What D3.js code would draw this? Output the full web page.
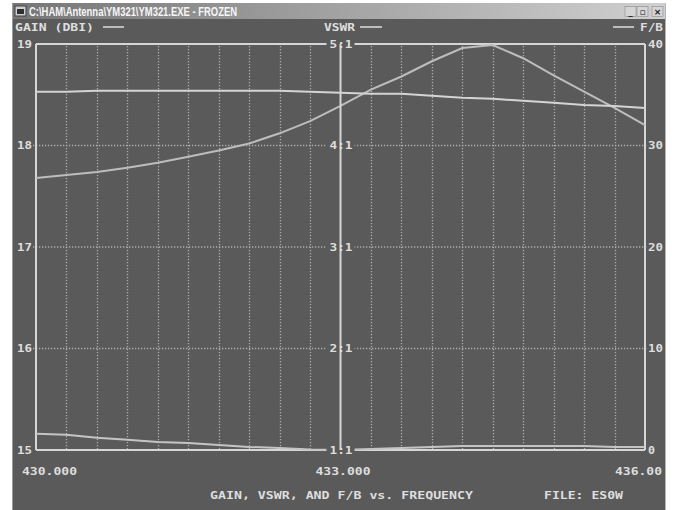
<!DOCTYPE html>
<html><head><meta charset="utf-8">
<script src="https://cdn.jsdelivr.net/npm/d3@7"></script>
<style>body{margin:0;background:#fff;overflow:hidden}</style>
</head><body>
<svg id="c" width="674" height="510"></svg>
<script>
// ---- data ----
const freqs = [430.0,430.3,430.6,430.9,431.2,431.5,431.8,432.1,432.4,432.7,433.0,433.3,433.6,433.9,434.2,434.5,434.8,435.1,435.4,435.7,436.0];
const gainDbi = [18.53,18.53,18.54,18.54,18.54,18.54,18.54,18.54,18.54,18.53,18.52,18.51,18.51,18.49,18.47,18.46,18.44,18.42,18.40,18.39,18.37];
const vswrVals = [1.16,1.15,1.12,1.10,1.08,1.07,1.05,1.03,1.02,1.005,1.00,1.01,1.02,1.03,1.04,1.04,1.04,1.04,1.04,1.03,1.03];
const fbVals = [26.8,27.1,27.4,27.8,28.3,28.9,29.5,30.2,31.2,32.4,33.9,35.5,36.8,38.3,39.6,39.9,38.6,36.9,35.3,33.7,32.0];
const gainTicks = [15,16,17,18,19];
const vswrTicks = [1,2,3,4,5];
const vswrTickLabels = ["1:1","2:1","3:1","4:1","5:1"];
const fbTicks = [0,10,20,30,40];
const freqTicks = [430,433,436];
const freqTickLabels = ["430.000","433.000","436.00"];
const windowTitle = "C:\\HAM\\Antenna\\YM321\\YM321.EXE - FROZEN";
const legendLeft = "GAIN (DBI)", legendMid = "VSWR", legendRight = "F/B";
const chartTitle = "GAIN, VSWR, AND F/B vs. FREQUENCY";
const fileLabel = "FILE: ES0W";

// ---- layout ----
const L = 36, R = 645, T = 44, B = 450;
const BG = "#5a5a5a", FRAME = "#d6d6d6", TXT = "#dedede", GRID = "#adadad";
const svg = d3.select("#c");

const x = d3.scaleLinear().domain([430,436]).range([L,R]);
const yGain = d3.scaleLinear().domain([15,19]).range([B,T]);
const yVswr = d3.scaleLinear().domain([1,5]).range([B,T]);
const yFb = d3.scaleLinear().domain([0,40]).range([B,T]);
const xMid = x(433);

// window
svg.append("rect").attr("x",12).attr("y",3).attr("width",654).attr("height",510).attr("fill",BG);
svg.append("line").attr("x1",12.5).attr("x2",12.5).attr("y1",3).attr("y2",510).attr("stroke","#9a9a9a");
svg.append("line").attr("x1",665.5).attr("x2",665.5).attr("y1",3).attr("y2",510).attr("stroke","#b4b4b4");
const defs = svg.append("defs");
const gr = defs.append("linearGradient").attr("id","tb");
gr.append("stop").attr("offset","0").attr("stop-color","#767676");
gr.append("stop").attr("offset","1").attr("stop-color","#d0d0d0");
svg.append("rect").attr("x",13).attr("y",3).attr("width",652).attr("height",16).attr("fill","url(#tb)");
// icon
svg.append("rect").attr("x",15).attr("y",6).attr("width",11).attr("height",10).attr("fill","#d0d0d0").attr("stroke","#404040").attr("stroke-width",1);
svg.append("rect").attr("x",17).attr("y",9).attr("width",7).attr("height",5).attr("fill","#303030");
svg.append("text").attr("x",29).attr("y",16).text(windowTitle)
  .attr("font-family","Liberation Sans, Arial, sans-serif").attr("font-weight","bold").attr("font-size",13.5)
  .attr("fill","#f6f6f6").attr("textLength",208).attr("lengthAdjust","spacingAndGlyphs");
// buttons
[[625,"_"],[637,"▫"],[652,"×"]].forEach(([bx,s])=>{
  svg.append("rect").attr("x",bx).attr("y",6.5).attr("width",11).attr("height",10).attr("fill","#d4d4d4").attr("stroke","#8a8a8a").attr("stroke-width",0.6);
  svg.append("text").attr("x",bx+5.5).attr("y",15).attr("text-anchor","middle").text(s)
    .attr("font-family","DejaVu Sans").attr("font-size",9).attr("font-weight","bold").attr("fill","#202020");
});

// DOS style text helper
function dos(t, px, py, anchor){
  const n = t.length;
  return svg.append("text").attr("x",px).attr("y",py+3.6).text(t)
    .attr("font-family","DejaVu Sans Mono, monospace").attr("font-weight","bold").attr("font-size",10)
    .attr("fill",TXT).attr("text-anchor",anchor||"start")
    .attr("textLength",n*8-1).attr("lengthAdjust","spacingAndGlyphs");
}

// grid: vertical dotted
const gridFreqs = freqs.filter(f => !freqTicks.some(t => Math.abs(t-f)<1e-6));
svg.append("g").selectAll("line").data(gridFreqs).join("line")
  .attr("x1",d=>Math.round(x(d))+0.5).attr("x2",d=>Math.round(x(d))+0.5).attr("y1",T+2).attr("y2",B-1)
  .attr("stroke",GRID).attr("stroke-width",1.3).attr("stroke-dasharray","1.3,1.7");
// horizontal dotted
svg.append("g").selectAll("line").data(gainTicks.slice(1,-1)).join("line")
  .attr("x1",33).attr("x2",R+2).attr("y1",d=>yGain(d)).attr("y2",d=>yGain(d))
  .attr("stroke",GRID).attr("stroke-width",1.3).attr("stroke-dasharray","1.3,1.7");

// frame
const fr = svg.append("g").attr("stroke",FRAME).attr("stroke-width",2).attr("fill","none");
fr.append("line").attr("x1",L).attr("x2",R).attr("y1",T).attr("y2",T);
fr.append("line").attr("x1",L).attr("x2",R).attr("y1",B).attr("y2",B);
fr.append("line").attr("x1",L).attr("x2",L).attr("y1",T).attr("y2",B);
fr.append("line").attr("x1",R).attr("x2",R).attr("y1",T).attr("y2",B);

// curves
const lineOf = (ys) => d3.line().x((d,i)=>x(freqs[i])).y(d=>ys(d)).curve(d3.curveLinear);
svg.append("path").datum(fbVals).attr("d",lineOf(yFb)).attr("fill","none").attr("stroke","#bdbdbd").attr("stroke-width",2);
svg.append("path").datum(gainDbi).attr("d",lineOf(yGain)).attr("fill","none").attr("stroke","#d4d4d4").attr("stroke-width",2);
svg.append("path").datum(vswrVals).attr("d",lineOf(yVswr)).attr("fill","none").attr("stroke","#c4c4c4").attr("stroke-width",2);

// middle label backgrounds, then middle axis
svg.append("g").selectAll("rect").data(vswrTicks).join("rect")
  .attr("x",xMid-14).attr("y",d=>yVswr(d)-5).attr("width",28).attr("height",10).attr("fill",BG);
svg.append("line").attr("x1",xMid).attr("x2",xMid).attr("y1",T).attr("y2",B).attr("stroke",FRAME).attr("stroke-width",2);

// axis labels
gainTicks.forEach(v => dos(String(v), 32, yGain(v), "end"));
fbTicks.forEach(v => dos(String(v), 648, yFb(v), "start"));
vswrTicks.forEach((v,i) => dos(vswrTickLabels[i], xMid+0.5, yVswr(v), "middle"));

// frequency labels
const fOff = [-14, -25, -30];
freqTicks.forEach((f,i) => dos(freqTickLabels[i], x(f)+fOff[i], 471, "start"));

// legend
dos(legendLeft, 15, 27, "start");
svg.append("line").attr("x1",103).attr("x2",124).attr("y1",27).attr("y2",27).attr("stroke",TXT).attr("stroke-width",1.5);
dos(legendMid, 324, 27, "start");
svg.append("line").attr("x1",360).attr("x2",382).attr("y1",27).attr("y2",27).attr("stroke",TXT).attr("stroke-width",1.5);
dos(legendRight, 663, 27, "end");
svg.append("line").attr("x1",613).attr("x2",634).attr("y1",27).attr("y2",27).attr("stroke",TXT).attr("stroke-width",1.5);

// bottom titles
dos(chartTitle, 210, 495, "start");
dos(fileLabel, 544, 495, "start");
</script>
</body></html>
